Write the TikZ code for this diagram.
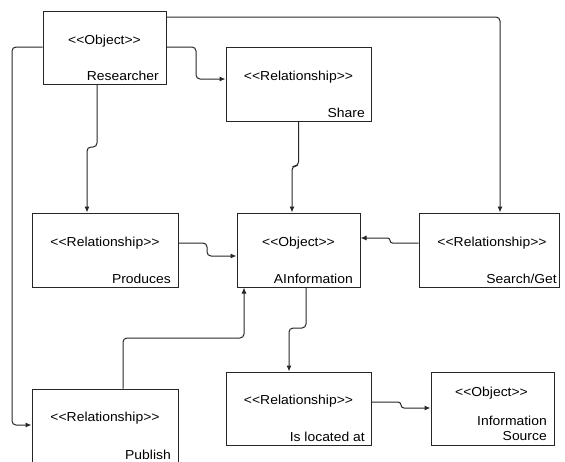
\documentclass[tikz,border=0pt]{standalone}
\usepackage{fontspec}
\setmainfont{Liberation Sans}[FakeStretch=1.07,Ligatures=TeXOff]
\usetikzlibrary{arrows.meta}
\begin{document}
\begin{tikzpicture}[x=1pt,y=-1pt,
  box/.style={draw=black!85,line width=1pt,rectangle,inner sep=0pt},
  conn/.style={draw=black!85,line width=1pt,rounded corners=4pt,
    -{Latex[length=6pt,width=5pt]}},
  stereo/.style={font=\fontsize{13}{15}\selectfont,text=black,
    anchor=base,inner sep=0pt},
  title/.style={font=\fontsize{13}{15}\selectfont,text=black,
    anchor=base east,inner sep=0pt,align=right}]
\useasboundingbox (0,0) rectangle (565,461);
\clip (0,0) rectangle (565,461);

% boxes
\node[box,minimum width=123pt,minimum height=73pt] (res)    at (104.5,47.5) {};
\node[box,minimum width=145pt,minimum height=74pt] (share)  at (298.5,84)   {};
\node[box,minimum width=146pt,minimum height=74pt] (prod)   at (105,250)    {};
\node[box,minimum width=123pt,minimum height=74pt] (ainfo)  at (298.5,250)  {};
\node[box,minimum width=140pt,minimum height=74pt] (search) at (489,250)    {};
\node[box,minimum width=146pt,minimum height=78pt] (pub)    at (105,428)    {};
\node[box,minimum width=145pt,minimum height=73pt] (loc)    at (298.5,408.5){};
\node[box,minimum width=123pt,minimum height=73pt] (src)    at (492.5,408.5){};

% labels
\node[stereo] (resS)    at (104.5,44)  {<<Object>>};
\node[title]  (resT)    at (159,80)    {Researcher};
\node[stereo] (shareS)  at (298.5,80)  {<<Relationship>>};
\node[title]  (shareT)  at (365,117)   {Share};
\node[stereo] (prodS)   at (105,246)   {<<Relationship>>};
\node[title]  (prodT)   at (171,283)   {Produces};
\node[stereo] (ainfoS)  at (298.5,246) {<<Object>>};
\node[title]  (ainfoT)  at (353,283)   {AInformation};
\node[stereo] (searchS) at (492,246)   {<<Relationship>>};
\node[title]  (searchT) at (557,283)   {Search/Get};
\node[stereo] (pubS)    at (105,421)   {<<Relationship>>};
\node[title]  (pubT)    at (171,459)   {Publish};
\node[stereo] (locS)    at (298.5,404) {<<Relationship>>};
\node[title]  (locT)    at (365,441)   {Is located at};
\node[stereo] (srcS)    at (491.5,396) {<<Object>>};
\node[title,anchor=south east] (srcT) at (547,441) {Information\\Source};

% connectors
\draw[conn] (res.east |- 0,17) -- (500,17) -- (search.north -| 500,0);
\draw[conn] (res.east |- 0,47) -- (196,47) -- (196,79) -- (share.west |- 0,79);
\draw[conn] (res.south -| 97,0) -- (97,147) -- (87,147) -- (prod.north -| 87,0);
\draw[conn] (res.west |- 0,47) -- (12,47) -- (12,425) -- (pub.west |- 0,425);
\draw[conn] (share.south) -- (298.5,166) -- (292,166) -- (ainfo.north -| 292,0);
\draw[conn] (prod.east |- 0,243) -- (207,243) -- (207,256) -- (ainfo.west |- 0,256);
\draw[conn,rounded corners=2.5pt] (search.west |- 0,243) -- (390,243) -- (390,238) -- (ainfo.east |- 0,238);
\draw[conn] (ainfo.south -| 306,0) -- (306,328) -- (289,328) -- (loc.north -| 289,0);
\draw[conn,rounded corners=3pt] (loc.east |- 0,402) -- (401,402) -- (401,408) -- (src.west |- 0,408);
\draw[conn] (pub.north -| 123,0) -- (123,338) -- (244,338) -- (ainfo.south -| 244,0);
\end{tikzpicture}
\end{document}
